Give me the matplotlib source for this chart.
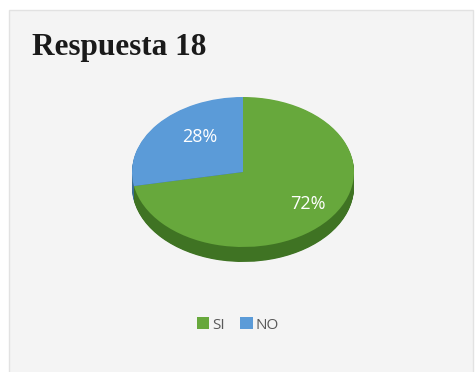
import numpy as np
import matplotlib
matplotlib.use('Agg')
import matplotlib.pyplot as plt
from matplotlib.patches import Rectangle, Patch

title = "Respuesta 18"
labels = ["SI", "NO"]
values = [72, 28]
colors = ["#67a83c", "#5b9bd8"]
side_colors = ["#3f7323", "#3a6e96"]

W, H = 476, 372
fig = plt.figure(figsize=(W / 100, H / 100), dpi=100)
fig.patch.set_facecolor("white")

# background panel
bg = fig.add_axes([0, 0, 1, 1])
bg.set_xlim(0, W)
bg.set_ylim(H, 0)
bg.axis("off")
bg.add_patch(Rectangle((8.5, 10), 464, 370, facecolor="#f4f4f4", edgecolor="#e2e2e2", lw=1))
bg.text(32, 55, title, fontsize=22.5, fontweight="bold", family="Liberation Serif",
        color="#1a1a1a", va="baseline", ha="left")

# pie drawn as a flattened ellipse with a thickness band underneath
left, right, top, bottom = 132, 354, 97, 262
pax = fig.add_axes([left / W, (H - bottom) / H, (right - left) / W, (bottom - top) / H])
pax.axis("off")

depth = 0.2
for d in np.linspace(depth, 0.01, 25):
    pax.pie(values, colors=side_colors, startangle=90, counterclock=False,
            radius=1, center=(0, -d), frame=False,
            wedgeprops=dict(linewidth=0))

wedges, _, autotexts = pax.pie(values, colors=colors, startangle=90, counterclock=False,
                               radius=1, center=(0, 0), frame=False,
                               autopct="%d%%", pctdistance=0.68,
                               wedgeprops=dict(linewidth=0),
                               textprops=dict(color="white", fontsize=13, family="Open Sans"))
# nudge the percentage labels to where the flattened view puts them
autotexts[0].set_position((0.585, -0.43))
autotexts[1].set_position((-0.39, 0.47))

pax.set_aspect("auto")
pax.set_xlim(-1, 1)
pax.set_ylim(-1.2, 1.0)

handles = [Patch(facecolor=c, edgecolor="none") for c in colors]
fig.legend(handles, labels, loc="center", bbox_to_anchor=(0.5, (H - 325) / H), ncol=2,
           frameon=False, handlelength=0.8, handleheight=0.8, handletextpad=0.2,
           columnspacing=1.0, prop=dict(family="Open Sans", size=11), labelcolor="#595959")

fig.savefig("out.png", dpi=100)
